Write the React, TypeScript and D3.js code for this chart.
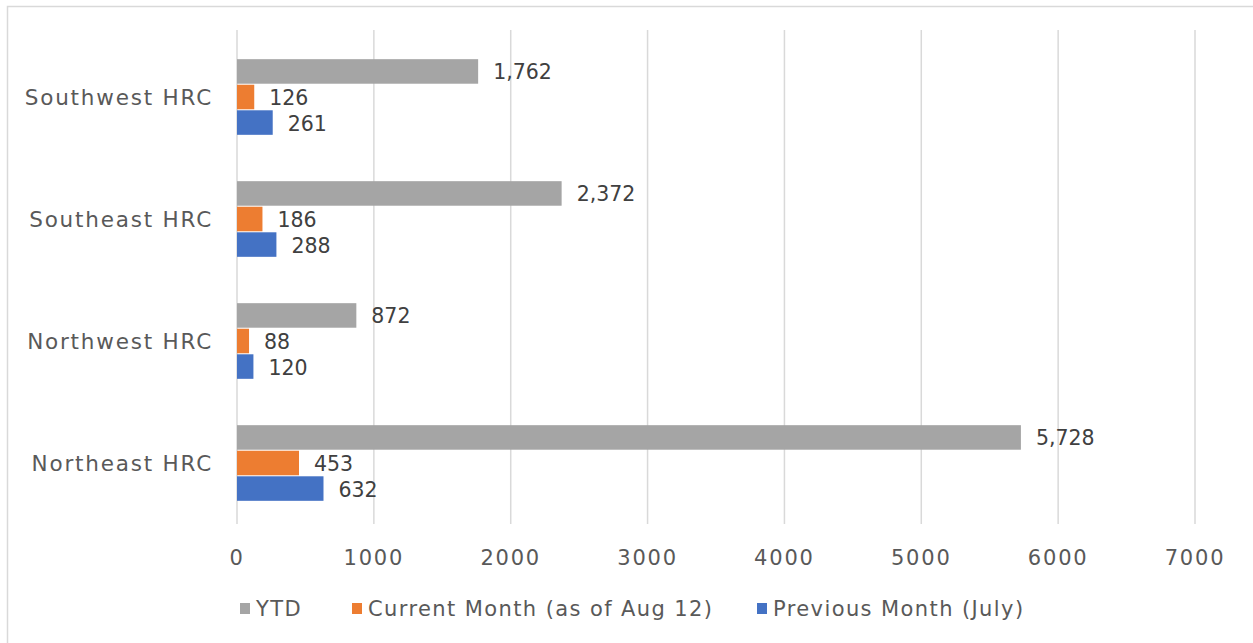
import React, { useEffect, useRef } from 'react';
import * as d3 from 'd3';

const categories = ['Southwest HRC', 'Southeast HRC', 'Northwest HRC', 'Northeast HRC'];
const seriesNames = ['YTD', 'Current Month (as of Aug 12)', 'Previous Month (July)'];
const ytd = [1762, 2372, 872, 5728];
const currentMonth = [126, 186, 88, 453];
const previousMonth = [261, 288, 120, 632];
const ticks = [0, 1000, 2000, 3000, 4000, 5000, 6000, 7000];
const colors = ['#A5A5A5', '#ED7D31', '#4472C4'];

const FONT = '"DejaVu Sans", sans-serif';

const App: React.FC = () => {
  const svgRef = useRef<SVGSVGElement>(null);

  useEffect(() => {
    if (!svgRef.current) return;
    const svg = d3.select(svgRef.current);
    svg.selectAll('*').remove();

    // chart frame
    svg.append('rect')
      .attr('x', 7.5)
      .attr('y', 6.5)
      .attr('width', 1260)
      .attr('height', 660)
      .attr('fill', '#fff')
      .attr('stroke', '#D9D9D9')
      .attr('stroke-width', 1.5);

    const x = d3.scaleLinear().domain([0, 7000]).range([237, 1195]);
    const y = d3.scaleBand<string>().domain(categories).range([36, 524]).paddingInner(0.38).paddingOuter(0.19);
    const inner = d3.scaleBand<number>().domain([0, 1, 2]).range([0, y.bandwidth()]).paddingInner(0.04);

    // gridlines
    svg.append('g').selectAll('line')
      .data(ticks)
      .join('line')
      .attr('x1', d => x(d))
      .attr('x2', d => x(d))
      .attr('y1', 30)
      .attr('y2', 524)
      .attr('stroke', '#D9D9D9')
      .attr('stroke-width', 1.5);

    // tick labels
    svg.append('g').selectAll('text')
      .data(ticks)
      .join('text')
      .attr('x', d => x(d))
      .attr('y', 565)
      .attr('text-anchor', 'middle')
      .attr('font-family', FONT)
      .attr('font-size', 21)
      .attr('letter-spacing', 1.8)
      .attr('fill', '#595959')
      .text(d => String(d));

    // category labels
    svg.append('g').selectAll('text')
      .data(categories)
      .join('text')
      .attr('x', 213)
      .attr('y', d => (y(d) ?? 0) + y.bandwidth() / 2 + 8)
      .attr('text-anchor', 'end')
      .attr('font-family', FONT)
      .attr('font-size', 21.5)
      .attr('letter-spacing', 1.8)
      .attr('fill', '#595959')
      .text(d => d);

    const series = [ytd, currentMonth, previousMonth];
    const fmt = d3.format(',');

    series.forEach((vals, si) => {
      const g = svg.append('g');
      g.selectAll('rect')
        .data(vals)
        .join('rect')
        .attr('x', x(0))
        .attr('y', (_, i) => (y(categories[i]) ?? 0) + (inner(si) ?? 0))
        .attr('width', d => x(d) - x(0))
        .attr('height', inner.bandwidth())
        .attr('fill', colors[si]);
      g.selectAll('text')
        .data(vals)
        .join('text')
        .attr('x', d => x(d) + 15)
        .attr('y', (_, i) => (y(categories[i]) ?? 0) + (inner(si) ?? 0) + inner.bandwidth() / 2 + 8)
        .attr('font-family', FONT)
        .attr('font-size', 20.5)
        .attr('fill', '#404040')
        .text(d => fmt(d));
    });

    // legend
    const legendX = [240, 352, 757];
    const lg = svg.append('g');
    seriesNames.forEach((name, i) => {
      lg.append('rect')
        .attr('x', legendX[i])
        .attr('y', 603)
        .attr('width', 10)
        .attr('height', 11)
        .attr('fill', colors[i]);
      lg.append('text')
        .attr('x', legendX[i] + 16)
        .attr('y', 616)
        .attr('font-family', FONT)
        .attr('font-size', 21)
        .attr('letter-spacing', 1.4)
        .attr('fill', '#595959')
        .text(name);
    });
  }, []);

  return (
    <svg
      ref={svgRef}
      width={1253}
      height={643}
      style={{ position: 'fixed', left: 0, top: 0, display: 'block' }}
    />
  );
};

export default App;
